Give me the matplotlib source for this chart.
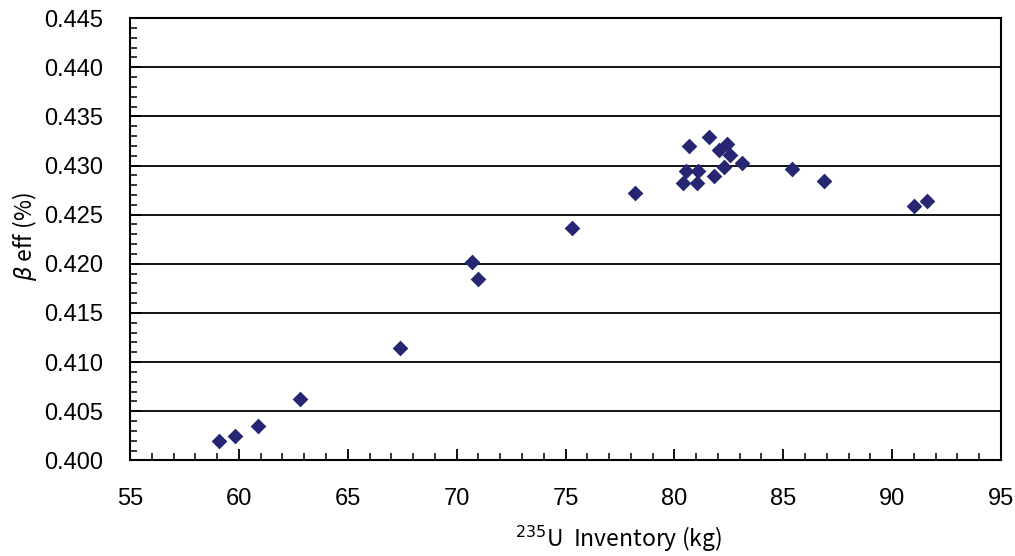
import matplotlib

matplotlib.use("Agg")

import matplotlib.pyplot as plt  # noqa: E402
from matplotlib.ticker import MultipleLocator  # noqa: E402

# 235U inventory (kg) vs beta-eff (%)
u235_kg = [
    59.1, 59.8, 60.9, 62.8, 67.4, 70.7, 71.0, 75.3, 78.2,
    80.65, 81.6, 80.55, 81.1, 80.4, 81.05, 81.8, 82.05, 82.4,
    82.55, 82.3, 83.1, 85.4, 86.85, 91.0, 91.6,
]
beta_eff = [
    0.4020, 0.4025, 0.4035, 0.4063, 0.4114, 0.4202, 0.4185, 0.4236, 0.4272,
    0.4320, 0.4329, 0.4294, 0.4294, 0.4282, 0.4282, 0.4289, 0.4316, 0.4322,
    0.4311, 0.4298, 0.4303, 0.4296, 0.4284, 0.4259, 0.4264,
]

plt.rcParams["font.family"] = ["Liberation Sans", "DejaVu Sans"]
label_font = ["Noto Sans CJK JP", "DejaVu Sans"]

fig = plt.figure(figsize=(10.15, 5.56), dpi=100)
ax = fig.add_axes([0.1281, 0.1718, 0.8581, 0.7958])

ax.scatter(u235_kg, beta_eff, marker="D", s=64, color="#262673", zorder=3, linewidths=0)

ax.set_xlim(55, 95)
ax.set_ylim(0.400, 0.445)
ax.xaxis.set_major_locator(MultipleLocator(5))
ax.xaxis.set_minor_locator(MultipleLocator(1))
ax.yaxis.set_major_locator(MultipleLocator(0.005))
ax.yaxis.set_minor_locator(MultipleLocator(0.001))
ax.yaxis.set_major_formatter(lambda v, pos: f"{v:.3f}")

ax.grid(axis="y", which="major", color="black", linewidth=1.3)
ax.set_axisbelow(True)

for side in ["left", "bottom", "right", "top"]:
    ax.spines[side].set_linewidth(1.5)
    ax.spines[side].set_color("black")

ax.tick_params(axis="both", which="major", direction="in", length=8, width=1.3, labelsize=17)
ax.tick_params(axis="both", which="minor", direction="in", length=5, width=1.1)
ax.tick_params(axis="y", which="major", pad=19.5)
ax.tick_params(axis="x", which="major", pad=20)

fig.text(0.609, 0.004, "$^{235}$U  Inventory (kg)", fontsize=16.5,
         family=label_font, ha="center", va="bottom")
fig.text(0.024, 0.575, "$\\beta$ eff (%)", fontsize=16.5, family=label_font,
         rotation=90, ha="center", va="center")

fig.savefig("out.png", dpi=100)
plt.close(fig)
